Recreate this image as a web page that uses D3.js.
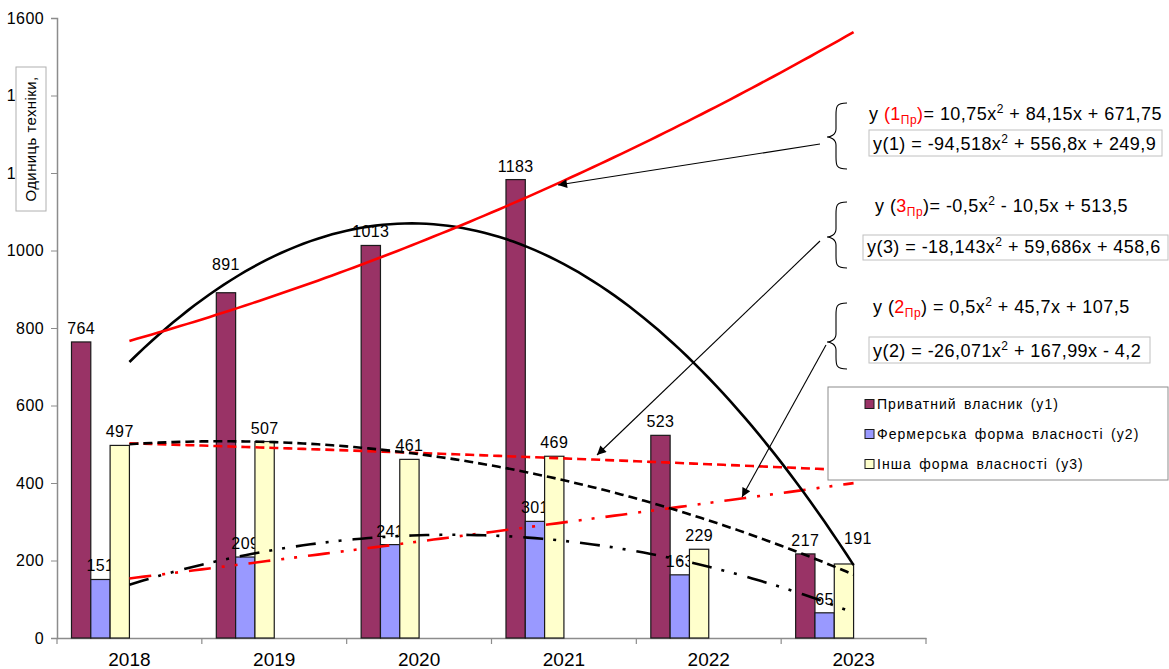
<!DOCTYPE html>
<html>
<head>
<meta charset="utf-8">
<script src="https://cdn.jsdelivr.net/npm/d3@7"></script>
<style>
  html, body { margin: 0; padding: 0; background: #fff; }
  svg { display: block; font-family: "Liberation Sans", Arial, sans-serif; }
</style>
</head>
<body>
<svg id="chart" width="1169" height="669"></svg>
<script>
// Number of machinery units by form of ownership, 2018–2023
const years = ["2018", "2019", "2020", "2021", "2022", "2023"];
const privateOwner = [764, 891, 1013, 1183, 523, 217];
const farmOwner = [151, 209, 241, 301, 163, 65];
const otherOwner = [497, 507, 461, 469, 229, 191];
const yTicks = [0, 200, 400, 600, 800, 1000, 1200, 1400, 1600];
const seriesNames = ["Приватний власник (у1)", "Фермерська форма власності (у2)", "Інша форма власності (у3)"];
const seriesColors = ["#993366", "#9999FF", "#FFFFCC"];

// Quadratic trend coefficients [a, b, c] for y = a·x² + b·x + c, x = 1..6
const trend1 = [-94.518, 556.8, 249.9];
const trend2 = [-26.071, 167.99, -4.2];
const trend3 = [-18.143, 59.686, 458.6];
const forecast1 = [10.75, 84.15, 671.75];
const forecast2 = [0.5, 45.7, 107.5];
const forecast3 = [-0.5, -10.5, 513.5];

const svg = d3.select("#chart");

const x = d3.scaleBand().domain(years).range([57, 926]).padding(0);
const y = d3.scaleLinear().domain([0, 1600]).range([638, 18]);
const bw = x.bandwidth() / 7.5;           // six-slot cluster with 150% gap
const slot = (i) => 0.75 * bw + i * bw;
const xt = d3.scaleLinear().domain([1, 6])
  .range([x(years[0]) + x.bandwidth() / 2, x(years[5]) + x.bandwidth() / 2]);

// Axes
const yAxis = d3.axisLeft(y).tickValues(yTicks).tickSize(6).tickPadding(7).tickFormat(d3.format("d"));
const gy = svg.append("g").attr("transform", "translate(57,0)").call(yAxis);
gy.select(".domain").attr("stroke", "#8c8c8c").attr("stroke-width", 1.5);
gy.selectAll(".tick line").attr("stroke", "#8c8c8c");
gy.selectAll(".tick text").attr("font-size", 16).attr("letter-spacing", 0.4).attr("fill", "#000")
  .attr("font-family", "Liberation Sans, Arial, sans-serif");

const xAxis = d3.axisBottom(x).tickSize(0).tickPadding(0).tickSizeOuter(0);
const gx = svg.append("g").attr("transform", "translate(0,638)").call(xAxis);
gx.select(".domain").attr("stroke", "#8c8c8c").attr("stroke-width", 1.5);
gx.selectAll(".tick text").attr("font-size", 19).attr("fill", "#000").attr("dy", null)
  .attr("y", 28).attr("font-family", "Liberation Sans, Arial, sans-serif");
// category boundary ticks
gx.selectAll(".bound").data(years.concat(["end"])).enter().append("line")
  .attr("class", "bound")
  .attr("x1", (d, i) => i < years.length ? x(d) : x(years[5]) + x.bandwidth())
  .attr("x2", (d, i) => i < years.length ? x(d) : x(years[5]) + x.bandwidth())
  .attr("y1", 0).attr("y2", 6).attr("stroke", "#8c8c8c").attr("stroke-width", 1.2);

// Y axis title box
const titleG = svg.append("g");
titleG.append("rect").attr("x", 16).attr("y", 67).attr("width", 30).attr("height", 144)
  .attr("fill", "#fff").attr("stroke", "#b0b0b0").attr("stroke-width", 1);
titleG.append("text").attr("transform", "translate(36,139) rotate(-90)")
  .attr("text-anchor", "middle").attr("font-size", 15).attr("letter-spacing", 0.4)
  .text("Одиниць техніки,");

// Bars and value labels
const series = [privateOwner, farmOwner, otherOwner];
const labelShift = { "0-1": [0, -15], "2-5": [14, -12] };
series.forEach((vals, si) => {
  svg.append("g").selectAll("rect").data(vals).enter().append("rect")
    .attr("x", (d, i) => x(years[i]) + slot(si))
    .attr("y", d => y(d))
    .attr("width", bw)
    .attr("height", d => y(0) - y(d))
    .attr("fill", seriesColors[si])
    .attr("stroke", "#1a1a1a").attr("stroke-width", 1.2);
  svg.append("g").selectAll("text").data(vals).enter().append("text")
    .attr("x", (d, i) => x(years[i]) + slot(si) + bw / 2 + (labelShift[si + "-" + i] || [0, 0])[0])
    .attr("y", (d, i) => y(d) - 8 + (labelShift[si + "-" + i] || [0, 0])[1])
    .attr("text-anchor", "middle").attr("font-size", 16).attr("letter-spacing", 0.4).attr("fill", "#000")
    .text(d => d);
});

// Trend and forecast curves
const quad = (c) => (t) => c[0] * t * t + c[1] * t + c[2];
const ts = d3.range(1, 6.0001, 0.05);
const curve = d3.line().x(t => xt(t)).curve(d3.curveLinear);
function drawCurve(coef, color, dash) {
  const f = quad(coef);
  svg.append("path")
    .attr("d", curve.y(t => y(f(t)))(ts))
    .attr("fill", "none").attr("stroke", color).attr("stroke-width", 2.6)
    .attr("stroke-dasharray", dash).attr("stroke-linecap", "butt");
}
drawCurve(forecast3, "#ff0000", "9,5");
drawCurve(forecast2, "#ff0000", "22,11,3,10,3,11");
drawCurve(trend3, "#000", "9,5");
drawCurve(trend2, "#000", "20,10,3,10,3,11");
drawCurve(trend1, "#000", null);
drawCurve(forecast1, "#ff0000", null);

// Equation annotations with braces and pointers
svg.append("defs").append("marker").attr("id", "arrowHead")
  .attr("viewBox", "0 0 10 10").attr("refX", 10).attr("refY", 5)
  .attr("markerWidth", 12).attr("markerHeight", 9).attr("markerUnits", "userSpaceOnUse")
  .attr("orient", "auto")
  .append("path").attr("d", "M0,0 L10,5 L0,10 Z").attr("fill", "#000");

const braces = [[103, 169, 137], [202, 268, 237], [303, 369, 342]];
braces.forEach(([top, bot, mid]) => {
  const xr = 847, xm = 836, xt0 = 827;
  const p = `M${xr},${top} C${xm},${top} ${xm},${top + 4} ${xm},${top + 12} L${xm},${mid - 8} ` +
    `C${xm},${mid - 2} ${xt0 + 3},${mid} ${xt0},${mid} C${xt0 + 3},${mid} ${xm},${mid + 2} ${xm},${mid + 8} ` +
    `L${xm},${bot - 12} C${xm},${bot - 4} ${xm},${bot} ${xr},${bot}`;
  svg.append("path").attr("d", p).attr("fill", "none").attr("stroke", "#000").attr("stroke-width", 1.1);
});

const pointers = [[820, 144, 558, 185], [820, 241, 597, 455], [826, 345, 742, 497]];
pointers.forEach(([x1, y1, x2, y2]) => {
  svg.append("line").attr("x1", x1).attr("y1", y1).attr("x2", x2).attr("y2", y2)
    .attr("stroke", "#000").attr("stroke-width", 1.1).attr("marker-end", "url(#arrowHead)");
});

function equation(xPos, yPos, parts) {
  const t = svg.append("text").attr("x", xPos).attr("y", yPos).attr("font-size", 18)
    .attr("letter-spacing", 0.45).attr("fill", "#000");
  let shift = 0;
  parts.forEach(p => {
    const s = t.append("tspan").text(p.t).attr("fill", p.c || "#000");
    let target = 0;
    if (p.k === "sup") { s.attr("font-size", 12); target = -7; }
    if (p.k === "sub") { s.attr("font-size", 12); target = 4; }
    if (target !== shift) { s.attr("dy", target - shift); shift = target; }
  });
  return t;
}
function boxed(bx, by, bwid, bh, tx, ty, parts) {
  svg.append("rect").attr("x", bx).attr("y", by).attr("width", bwid).attr("height", bh)
    .attr("fill", "#fff").attr("stroke", "#c0c0c0").attr("stroke-width", 1);
  equation(tx, ty, parts);
}
const red = "#ff0000";
equation(869, 120, [{ t: "y " }, { t: "(1", c: red }, { t: "Пр", c: red, k: "sub" }, { t: ")", c: red },
  { t: "= 10,75x" }, { t: "2", k: "sup" }, { t: " + 84,15x + 671,75" }]);
boxed(869, 130, 293, 26, 873, 150, [{ t: "y(1) = -94,518x" }, { t: "2", k: "sup" }, { t: " + 556,8x + 249,9" }]);
equation(875, 212, [{ t: "y (" }, { t: "3", c: red }, { t: "Пр", c: red, k: "sub" }, { t: ")" },
  { t: "= -0,5x" }, { t: "2", k: "sup" }, { t: " - 10,5x + 513,5" }]);
boxed(863, 235, 305, 25, 867, 253, [{ t: "y(3) = -18,143x" }, { t: "2", k: "sup" }, { t: " + 59,686x + 458,6" }]);
equation(873, 313, [{ t: "y (" }, { t: "2", c: red }, { t: "Пр", c: red, k: "sub" }, { t: ")" },
  { t: " = 0,5x" }, { t: "2", k: "sup" }, { t: " + 45,7x + 107,5" }]);
boxed(869, 337, 281, 26, 873, 357, [{ t: "y(2) = -26,071x" }, { t: "2", k: "sup" }, { t: " + 167,99x - 4,2" }]);

// Legend
const lg = svg.append("g");
lg.append("rect").attr("x", 828).attr("y", 387).attr("width", 340).attr("height", 93)
  .attr("fill", "#fff").attr("stroke", "#8c8c8c").attr("stroke-width", 1);
seriesNames.forEach((name, i) => {
  const cy = 404 + i * 30;
  lg.append("rect").attr("x", 865).attr("y", cy - 4.5).attr("width", 9).attr("height", 9)
    .attr("fill", seriesColors[i]).attr("stroke", "#1a1a1a").attr("stroke-width", 1);
  lg.append("text").attr("x", 877).attr("y", cy + 5).attr("font-size", 14)
    .attr("letter-spacing", 1.05).attr("word-spacing", 2.5).text(name);
});
</script>
</body>
</html>
